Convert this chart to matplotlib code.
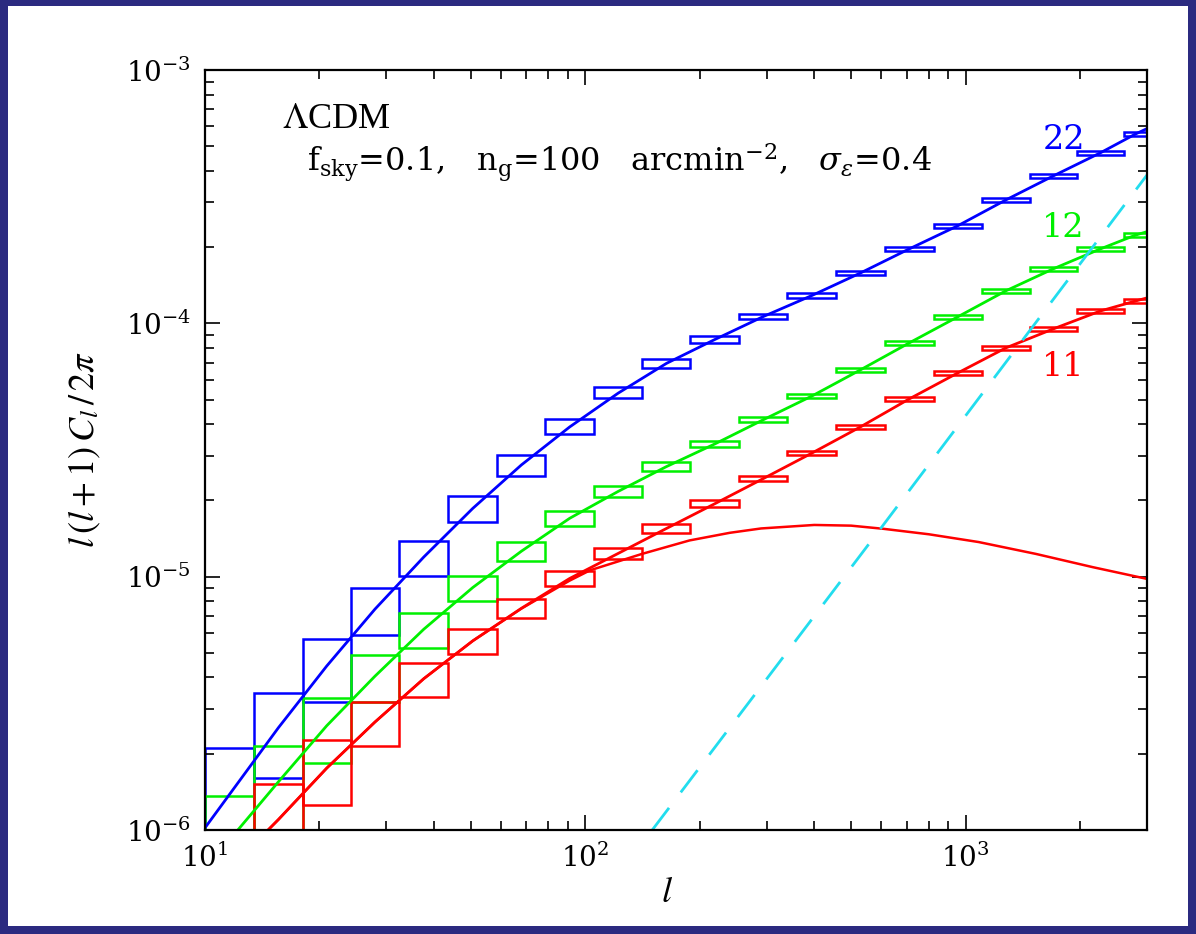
import matplotlib
matplotlib.use('Agg')
import matplotlib.pyplot as plt
from matplotlib.patches import Rectangle
from matplotlib.ticker import LogLocator, NullFormatter

plt.rcParams['mathtext.fontset'] = 'dejavuserif'
plt.rcParams['font.family'] = ['DejaVu Serif']

# bin edges in multipole l
l_edges = [10, 13.46, 18.11, 24.23, 32.40, 43.61, 58.66, 78.47, 105.6, 141.3, 189.0,
           254.3, 340.1, 457.7, 612.2, 823.6, 1102, 1474, 1960, 2605, 3000]

# error boxes (upper / lower edge) per bin
blue_hi = [2.10e-6, 3.47e-6, 5.68e-6, 9.02e-6, 1.38e-5, 2.08e-5, 3.02e-5, 4.19e-5, 5.61e-5, 7.23e-5,
           8.91e-5, 1.089e-4, 1.318e-4, 1.61e-4, 2.00e-4, 2.47e-4, 3.12e-4, 3.88e-4, 4.79e-4, 5.69e-4]
blue_lo = [0.68e-6, 1.60e-6, 3.20e-6, 5.88e-6, 1.01e-5, 1.64e-5, 2.50e-5, 3.66e-5, 5.07e-5, 6.67e-5,
           8.36e-5, 1.040e-4, 1.259e-4, 1.55e-4, 1.93e-4, 2.38e-4, 3.01e-4, 3.75e-4, 4.62e-4, 5.49e-4]
green_hi = [1.36e-6, 2.14e-6, 3.32e-6, 4.90e-6, 7.18e-6, 1.01e-5, 1.37e-5, 1.82e-5, 2.28e-5, 2.83e-5,
            3.43e-5, 4.26e-5, 5.26e-5, 6.67e-5, 8.51e-5, 1.079e-4, 1.366e-4, 1.67e-4, 2.00e-4, 2.27e-4]
green_lo = [0.40e-6, 0.96e-6, 1.84e-6, 3.20e-6, 5.22e-6, 8.01e-6, 1.15e-5, 1.58e-5, 2.06e-5, 2.61e-5,
            3.25e-5, 4.07e-5, 5.07e-5, 6.43e-5, 8.21e-5, 1.040e-4, 1.318e-4, 1.61e-4, 1.93e-4, 2.19e-4]
red_hi = [0.95e-6, 1.52e-6, 2.26e-6, 3.20e-6, 4.56e-6, 6.21e-6, 8.16e-6, 1.05e-5, 1.30e-5, 1.61e-5,
          2.00e-5, 2.50e-5, 3.13e-5, 3.97e-5, 5.12e-5, 6.48e-5, 8.13e-5, 9.66e-5, 1.138e-4, 1.247e-4]
red_lo = [0.30e-6, 0.68e-6, 1.25e-6, 2.14e-6, 3.35e-6, 4.95e-6, 6.87e-6, 9.18e-6, 1.17e-5, 1.49e-5,
          1.88e-5, 2.38e-5, 3.02e-5, 3.83e-5, 4.93e-5, 6.25e-5, 7.85e-5, 9.33e-5, 1.098e-4, 1.202e-4]

# theory curves
l_mid = [15.6, 20.9, 28.0, 37.6, 50.6, 67.9, 91.0, 122, 163.5, 219, 294, 394.5, 529, 710, 953,
         1274, 1699, 2259, 2799]
l_blue = [10] + l_mid + [3000]
c_blue = [1.02e-6, 2.535e-6, 4.44e-6, 7.45e-6, 1.195e-5, 1.86e-5, 2.76e-5, 3.90e-5, 5.30e-5, 6.95e-5,
          8.63e-5, 1.064e-4, 1.288e-4, 1.58e-4, 1.965e-4, 2.425e-4, 3.065e-4, 3.815e-4, 4.705e-4,
          5.59e-4, 5.87e-4]
l_green = [12.2] + l_mid + [3000]
c_green = [1.0e-6, 1.55e-6, 2.58e-6, 4.05e-6, 6.2e-6, 9.06e-6, 1.26e-5, 1.70e-5, 2.17e-5, 2.72e-5,
           3.34e-5, 4.165e-5, 5.165e-5, 6.55e-5, 8.36e-5, 1.06e-4, 1.342e-4, 1.64e-4, 1.965e-4,
           2.23e-4, 2.30e-4]
l_red = [14.65] + l_mid + [3000]
c_red = [1.0e-6, 1.1e-6, 1.755e-6, 2.67e-6, 3.955e-6, 5.58e-6, 7.5e-6, 9.84e-6, 1.235e-5, 1.55e-5,
         1.94e-5, 2.44e-5, 3.075e-5, 3.90e-5, 5.025e-5, 6.365e-5, 7.99e-5, 9.5e-5, 1.118e-4,
         1.225e-4, 1.26e-4]
# second red curve (turns over at high l)
l_red2 = [14.65, 15.6, 20.9, 28.0, 37.6, 50.6, 67.9, 91.0, 103, 141, 188, 240, 290, 400, 500, 608,
          801, 1082, 1530, 2162, 3000]
c_red2 = [1.0e-6, 1.1e-6, 1.755e-6, 2.67e-6, 3.955e-6, 5.58e-6, 7.48e-6, 9.65e-6, 1.06e-5, 1.23e-5,
          1.39e-5, 1.49e-5, 1.55e-5, 1.60e-5, 1.59e-5, 1.545e-5, 1.47e-5, 1.37e-5, 1.23e-5,
          1.09e-5, 9.8e-6]
# shot noise
l_noise = [150, 600, 3000]
c_noise = [1.0e-6, 1.56e-5, 3.85e-4]

fig = plt.figure(figsize=(11.96, 9.34), dpi=100)
fig.patch.set_facecolor('#2b2a80')
fig.add_artist(Rectangle((8/1196, 8/934), 1180/1196, 920/934, transform=fig.transFigure,
                         facecolor='white', edgecolor='none', zorder=-10))

ax = fig.add_axes([205/1196, 104/934, 942/1196, 760/934])
ax.set_xscale('log')
ax.set_yscale('log')
ax.set_xlim(10, 3000)
ax.set_ylim(1e-6, 1e-3)

for hi, lo, col in [(blue_hi, blue_lo, '#0000ff'), (green_hi, green_lo, '#00f000'),
                    (red_hi, red_lo, '#ff0000')]:
    for i in range(len(hi)):
        r = Rectangle((l_edges[i], lo[i]), l_edges[i + 1] - l_edges[i], hi[i] - lo[i],
                      facecolor='none', edgecolor=col, lw=1.8)
        ax.add_patch(r)

ax.plot(l_blue, c_blue, color='#0000ff', lw=2)
ax.plot(l_green, c_green, color='#00f000', lw=2)
ax.plot(l_red, c_red, color='#ff0000', lw=2)
ax.plot(l_red2, c_red2, color='#ff0000', lw=1.8)
ax.plot(l_noise, c_noise, color='#22ddee', lw=2, dashes=(10, 7))

ax.text(0.082, 0.924, r'$\Lambda$CDM', transform=ax.transAxes, fontsize=26,
        family=['Liberation Serif'], math_fontfamily='stix')
ax.text(0.108, 0.866,
        r'f$_{\mathrm{sky}}$=0.1,   n$_{\mathrm{g}}$=100   arcmin$^{-2}$,   $\sigma_\epsilon$=0.4',
        transform=ax.transAxes, fontsize=23)
ax.text(1811, 4.88e-4, '22', color='#0000ff', fontsize=24, ha='center', va='baseline')
ax.text(1811, 2.19e-4, '12', color='#00f000', fontsize=24, ha='center', va='baseline')
ax.text(1811, 6.19e-5, '11', color='#ff0000', fontsize=24, ha='center', va='baseline')

ax.xaxis.set_major_locator(LogLocator(base=10, numticks=10))
ax.xaxis.set_minor_locator(LogLocator(base=10, subs=range(2, 10), numticks=20))
ax.xaxis.set_minor_formatter(NullFormatter())
ax.yaxis.set_minor_formatter(NullFormatter())
ax.tick_params(which='both', direction='in', top=True, right=True, width=1.2, labelsize=20)
ax.tick_params(which='major', length=11, pad=10)
ax.tick_params(which='minor', length=6.5)
for s in ax.spines.values():
    s.set_linewidth(1.6)

fig.text(85/1196, 1 - 450/934, r'$l\,(l+1)\,C_l\,/\,2\pi$', rotation=90, fontsize=26,
         ha='center', va='center', math_fontfamily='stix')
fig.text(667/1196, 1 - 892/934, r'$l$', fontsize=26, ha='center', va='center',
         math_fontfamily='stix')

fig.savefig('out.png', dpi=100, facecolor=fig.get_facecolor())
